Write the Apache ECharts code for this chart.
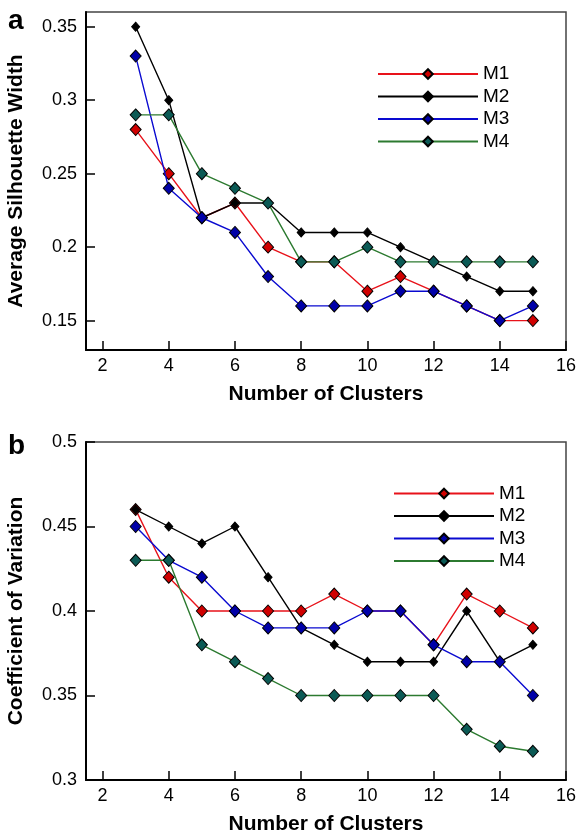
<!DOCTYPE html>
<html>
<head>
<meta charset="utf-8">
<script src="https://cdn.jsdelivr.net/npm/echarts@6/dist/echarts.min.js"></script>
<style>
  html, body { margin: 0; padding: 0; background: #fff; }
  #chart { width: 577px; height: 834px; }
</style>
</head>
<body>
<div id="chart"></div>
<script>
// number of clusters on the x axis
var clusters = [3, 4, 5, 6, 7, 8, 9, 10, 11, 12, 13, 14, 15];

// panel a: average silhouette width
var silM1 = [0.28, 0.25, 0.22, 0.23, 0.20, 0.19, 0.19, 0.17, 0.18, 0.17, 0.16, 0.15, 0.15];
var silM2 = [0.35, 0.30, 0.22, 0.23, 0.23, 0.21, 0.21, 0.21, 0.20, 0.19, 0.18, 0.17, 0.17];
var silM3 = [0.33, 0.24, 0.22, 0.21, 0.18, 0.16, 0.16, 0.16, 0.17, 0.17, 0.16, 0.15, 0.16];
var silM4 = [0.29, 0.29, 0.25, 0.24, 0.23, 0.19, 0.19, 0.20, 0.19, 0.19, 0.19, 0.19, 0.19];

// panel b: coefficient of variation
var cvM1 = [0.46, 0.42, 0.40, 0.40, 0.40, 0.40, 0.41, 0.40, 0.40, 0.38, 0.41, 0.40, 0.39];
var cvM2 = [0.46, 0.45, 0.44, 0.45, 0.42, 0.39, 0.38, 0.37, 0.37, 0.37, 0.40, 0.37, 0.38];
var cvM3 = [0.45, 0.43, 0.42, 0.40, 0.39, 0.39, 0.39, 0.40, 0.40, 0.38, 0.37, 0.37, 0.35];
var cvM4 = [0.43, 0.43, 0.38, 0.37, 0.36, 0.35, 0.35, 0.35, 0.35, 0.35, 0.33, 0.32, 0.317];

// tick labels
var xTicks = [2, 4, 6, 8, 10, 12, 14, 16];
var silTicks = [0.15, 0.2, 0.25, 0.3, 0.35];
var cvTicks = [0.3, 0.35, 0.4, 0.45, 0.5];

var names = ['M1', 'M2', 'M3', 'M4'];
var lineColors = ['#e8121a', '#000000', '#0a0ad0', '#2c7a30'];
var fillColors = ['#d00000', '#000000', '#0000a8', '#0b5a55'];
var symSizes = [[11, 12], [8, 9], [11, 12], [11, 12]];

var FONT = '"Liberation Sans", Arial, sans-serif';

function pairs(vals) {
  return clusters.map(function (c, i) { return [c, vals[i]]; });
}

function makeSeries(idx, list) {
  return list.map(function (vals, k) {
    return {
      name: names[k],
      type: 'line',
      xAxisIndex: idx,
      yAxisIndex: idx,
      data: pairs(vals),
      symbol: 'diamond',
      symbolSize: symSizes[k],
      lineStyle: { color: lineColors[k], width: 1.4 },
      itemStyle: { color: fillColors[k], borderColor: '#000', borderWidth: 1 },
      emphasis: { disabled: true },
      animation: false,
      z: 2 + k
    };
  });
}

function makeX(gridIndex) {
  return {
    type: 'value',
    gridIndex: gridIndex,
    min: 1.5,
    max: 16,
    name: 'Number of Clusters',
    nameLocation: 'middle',
    nameGap: 34,
    nameTextStyle: { fontFamily: FONT, fontSize: 21, fontWeight: 'bold', color: '#000' },
    axisLine: { show: true, lineStyle: { color: '#000', width: 2 } },
    axisTick: { show: true, inside: true, length: 9, customValues: xTicks, lineStyle: { color: '#000', width: 1.5 } },
    axisLabel: { customValues: xTicks, fontFamily: FONT, fontSize: 18, color: '#000', margin: 7 },
    splitLine: { show: false }
  };
}

function makeY(gridIndex, title, min, max, ticks) {
  return {
    type: 'value',
    gridIndex: gridIndex,
    min: min,
    max: max,
    name: title,
    nameLocation: 'middle',
    nameGap: 59,
    nameTextStyle: { fontFamily: FONT, fontSize: 21, fontWeight: 'bold', color: '#000' },
    axisLine: { show: true, lineStyle: { color: '#000', width: 2 } },
    axisTick: { show: true, inside: true, length: 9, customValues: ticks, lineStyle: { color: '#000', width: 1.5 } },
    axisLabel: { customValues: ticks, fontFamily: FONT, fontSize: 18, color: '#000', margin: 9 },
    splitLine: { show: false }
  };
}

function makeLegend(left, top) {
  return {
    data: names,
    orient: 'vertical',
    left: left,
    top: top,
    itemWidth: 100,
    itemHeight: 12,
    itemGap: 3.5,
    padding: 0,
    textStyle: { fontFamily: FONT, fontSize: 19, color: '#000', lineHeight: 19 },
    selectedMode: false
  };
}

var option = {
  backgroundColor: '#fff',
  animation: false,
  grid: [
    { left: 86, top: 12, width: 480, height: 338, outerBoundsMode: 'none', show: true, borderColor: '#444', borderWidth: 1.5 },
    { left: 86, top: 442, width: 480, height: 338, outerBoundsMode: 'none', show: true, borderColor: '#444', borderWidth: 1.5 }
  ],
  xAxis: [makeX(0), makeX(1)],
  yAxis: [
    makeY(0, 'Average Silhouette Width', 0.13, 0.36, silTicks),
    makeY(1, 'Coefficient of Variation', 0.3, 0.5, cvTicks)
  ],
  legend: [makeLegend(377, 64.5), makeLegend(393, 484)],
  graphic: [
    { type: 'text', left: 8, top: 7, style: { text: 'a', font: 'bold 28px ' + FONT, fill: '#000' } },
    { type: 'text', left: 8, top: 432, style: { text: 'b', font: 'bold 28px ' + FONT, fill: '#000' } }
  ],
  series: makeSeries(0, [silM1, silM2, silM3, silM4])
    .concat(makeSeries(1, [cvM1, cvM2, cvM3, cvM4]))
};

var chart = echarts.init(document.getElementById('chart'), null, { renderer: 'canvas' });
chart.setOption(option);
</script>
</body>
</html>
